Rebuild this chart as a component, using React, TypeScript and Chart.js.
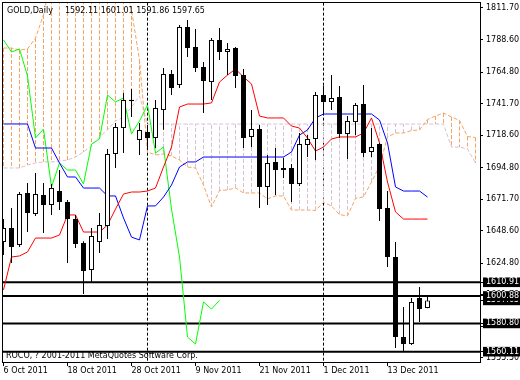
import React, { useEffect, useRef } from "react";
import { Chart, registerables } from "chart.js";

Chart.register(...registerables);

// ---- candles (bar 0 = 6 Oct 2011, one bar per trading day) ----
const barOpen = [
  1640.4, 1650.6, 1638.2, 1676.3, 1660.9, 1674.8, 1667.5, 1677.7, 1669.7, 1657.2,
  1639.7, 1619.9, 1640.4, 1652.1, 1704.8, 1723.8, 1744.6, 1715.1, 1720.9, 1716.5,
  1737.0, 1763.4, 1755.3, 1797.8, 1783.1, 1768.5, 1757.5, 1788.3, 1779.5, 1782.4,
  1762.6, 1717.3, 1723.1, 1680.7, 1699.0, 1694.6, 1694.6, 1682.9, 1711.4, 1715.8,
  1748.0, 1742.9, 1746.5, 1719.5, 1728.2, 1741.4, 1706.3, 1712.1, 1665.3, 1629.4,
  1570.8, 1565.7, 1599.4, 1592.11,
];
const barHigh = [
  1657.2, 1665.3, 1677.0, 1683.6, 1690.9, 1683.6, 1682.9, 1693.1, 1671.1, 1660.2,
  1641.0, 1650.6, 1661.6, 1708.5, 1727.5, 1749.5, 1752.4, 1727.5, 1726.0, 1744.3,
  1767.8, 1766.3, 1799.3, 1802.9, 1796.3, 1772.2, 1789.7, 1797.1, 1786.1, 1783.1,
  1767.0, 1737.0, 1726.0, 1704.1, 1709.2, 1701.9, 1697.5, 1720.2, 1718.7, 1750.2,
  1754.6, 1762.6, 1754.6, 1732.6, 1742.2, 1755.3, 1723.8, 1712.9, 1677.7, 1640.4,
  1592.8, 1599.4, 1607.4, 1601.01,
];
const barLow = [
  1630.9, 1625.0, 1636.7, 1647.7, 1659.4, 1647.0, 1660.2, 1663.8, 1625.0, 1636.0,
  1602.3, 1610.4, 1632.3, 1642.6, 1694.6, 1705.5, 1731.9, 1704.1, 1707.7, 1709.2,
  1722.5, 1748.0, 1753.1, 1775.8, 1764.8, 1734.8, 1744.3, 1773.6, 1762.6, 1753.1,
  1709.2, 1709.9, 1665.3, 1667.5, 1674.8, 1687.2, 1669.7, 1681.4, 1702.6, 1700.4,
  1734.8, 1737.0, 1716.5, 1701.2, 1718.7, 1702.6, 1702.6, 1655.8, 1622.1, 1562.8,
  1559.9, 1565.0, 1581.8, 1591.86,
];
const barClose = [
  1650.6, 1636.7, 1675.5, 1661.6, 1675.5, 1667.5, 1679.9, 1669.7, 1657.2, 1638.9,
  1619.2, 1644.8, 1652.8, 1704.8, 1724.6, 1744.3, 1743.5, 1722.4, 1716.5, 1738.5,
  1763.4, 1753.1, 1797.8, 1782.4, 1767.8, 1758.3, 1788.3, 1779.5, 1781.7, 1761.9,
  1716.5, 1723.1, 1680.7, 1698.2, 1693.1, 1693.1, 1682.9, 1712.1, 1715.8, 1748.0,
  1742.9, 1745.8, 1719.5, 1729.0, 1740.7, 1705.5, 1709.9, 1664.5, 1629.4, 1570.8,
  1565.7, 1596.5, 1591.3, 1597.65,
];

// ---- Ichimoku lines ----
const tenkan = [
  1605.3, 1629.4, 1630.2, 1633.1, 1643.3, 1643.3, 1643.3, 1645.5, 1660.2, 1660.2,
  1647.7, 1647.7, 1647.7, 1652.8, 1664.5, 1675.5, 1677.0, 1677.0, 1677.7, 1679.9,
  1695.3, 1709.9, 1739.2, 1741.4, 1741.4, 1741.4, 1742.2, 1757.5, 1762.6, 1767.0,
  1761.2, 1756.1, 1732.6, 1731.2, 1731.2, 1731.2, 1725.3, 1723.8, 1716.5, 1707.0,
  1709.9, 1715.8, 1717.3, 1717.3, 1717.3, 1720.2, 1731.2, 1712.9, 1684.3, 1662.4,
  1657.2, 1657.2, 1657.2, 1657.2,
];
const kijun = [
  1726.8, 1726.8, 1726.8, 1726.8, 1709.2, 1709.2, 1709.2, 1698.2, 1688.0, 1688.0,
  1679.9, 1679.9, 1679.9, 1674.1, 1674.1, 1658.0, 1644.0, 1641.9, 1666.8, 1666.8,
  1673.3, 1682.1, 1695.3, 1699.0, 1699.0, 1702.6, 1702.6, 1702.6, 1702.6, 1702.6,
  1702.6, 1702.6, 1702.6, 1702.6, 1702.6, 1702.6, 1706.3, 1718.7, 1722.4, 1731.2,
  1734.1, 1734.1, 1734.1, 1734.1, 1734.1, 1734.1, 1734.1, 1729.7, 1712.9, 1680.7,
  1677.7, 1677.7, 1677.7, 1673.3,
];
// Chikou span, bars 0..27
const chikou = [
  1788.3, 1779.5, 1781.7, 1761.9, 1716.5, 1723.1, 1680.7, 1698.2, 1693.1, 1693.1,
  1682.9, 1712.1, 1715.8, 1748.0, 1742.9, 1745.8, 1719.5, 1729.0, 1740.7, 1705.5,
  1709.9, 1664.5, 1629.4, 1570.8, 1565.7, 1596.5, 1591.3, 1597.65,
];
// Senkou spans, bars 0..59 (cloud runs past the last candle)
const senkouA = [
  1782.4, 1782.4, 1781.0, 1781.7, 1789.7, 1806.6, 1835.0, 1835.0, 1835.0, 1835.0,
  1835.0, 1835.0, 1835.0, 1835.0, 1835.0, 1835.0, 1810.2, 1773.6, 1706.3, 1704.1,
  1704.8, 1703.4, 1700.4, 1695.3, 1694.6, 1682.1, 1666.1, 1678.1, 1678.5, 1680.0,
  1676.3, 1676.3, 1676.3, 1671.9, 1674.1, 1674.1, 1663.8, 1663.8, 1663.8, 1663.5,
  1669.3, 1666.8, 1660.5, 1659.5, 1672.3, 1673.4, 1684.3, 1696.0, 1717.3, 1720.2,
  1720.2, 1722.0, 1722.4, 1730.1, 1732.6, 1734.8, 1731.9, 1729.4, 1717.6, 1716.9,
];
const senkouB = [
  1694.6, 1694.6, 1694.6, 1696.8, 1698.2, 1699.0, 1699.0, 1699.7, 1700.4, 1702.6,
  1706.3, 1710.7, 1717.3, 1722.4, 1729.0, 1731.9, 1739.2, 1747.3, 1726.75, 1726.75,
  1726.75, 1726.75, 1726.75, 1726.75, 1726.75, 1726.75, 1726.75, 1726.75, 1726.75, 1726.75,
  1726.75, 1726.75, 1726.75, 1726.75, 1726.75, 1726.75, 1726.75, 1726.75, 1726.75, 1726.75,
  1726.75, 1726.75, 1726.75, 1726.75, 1726.75, 1726.75, 1726.75, 1726.75, 1726.75, 1726.75,
  1726.75, 1726.75, 1726.75, 1726.75, 1726.75, 1726.75, 1709.9, 1709.9, 1708.5, 1698.2,
];

// ---- horizontal levels, axis ticks, labels ----
const levels = [1610.91, 1600.88, 1580.8, 1560.11];
const currentPrice = 1597.65;
const yTickValues = [
  1555.5, 1578.6, 1601.7, 1624.8, 1648.6, 1671.7, 1694.8, 1718.6, 1741.7, 1764.8, 1788.6, 1811.7,
];
const dateTickBars = [0, 8, 16, 24, 32, 40, 48];
const dateTickLabels = [
  "6 Oct 2011", "18 Oct 2011", "28 Oct 2011", "9 Nov 2011", "21 Nov 2011", "1 Dec 2011", "13 Dec 2011",
];
const separatorBars = [18, 40];
const symbolLabel = "GOLD,Daily";
const copyrightLabel = "ROCO, ? 2001-2011 MetaQuotes Software Corp.";

const X_MIN = -0.0625;
const X_MAX = 59.5625;
const Y_MIN = 1552.55;
const Y_MAX = 1815.36;

const FONT = '"DejaVu Sans", sans-serif';
const SANDY = "#F4A460";
const THISTLE = "#D8BFD8";

const specialTicks = [currentPrice, ...levels];

export default function App() {
  const ref = useRef<HTMLCanvasElement | null>(null);

  useEffect(() => {
    if (!ref.current) return;
    const idx = barOpen.map((_, i) => i);

    const hatch = (orange: boolean) => {
      const pts: any[] = [];
      senkouA.forEach((a, i) => {
        const b = senkouB[i];
        if ((a > b) === orange) {
          pts.push({ x: i, y: a }, { x: i, y: b }, { x: i, y: null });
        }
      });
      return pts;
    };

    const sepData: any[] = [];
    separatorBars.forEach((b) => {
      sepData.push({ x: b, y: Y_MIN - 10 }, { x: b, y: Y_MAX + 10 }, { x: b, y: null });
    });

    const lineBase = {
      type: "line" as const,
      pointRadius: 0,
      pointHoverRadius: 0,
      borderWidth: 1,
      tension: 0,
      fill: false,
      spanGaps: false,
    };

    const overlay = {
      id: "overlay",
      afterDraw(chart: any) {
        const { ctx, chartArea } = chart;
        const { left, top, right, bottom } = chartArea;
        ctx.save();
        ctx.fillStyle = "#000";
        ctx.font = `8px ${FONT}`;
        ctx.textBaseline = "alphabetic";
        ctx.textAlign = "left";
        const last = barOpen.length - 1;
        const ohlc = [barOpen[last], barHigh[last], barLow[last], barClose[last]]
          .map((v) => v.toFixed(2))
          .join(" ");
        ctx.fillText(symbolLabel, 7, 13);
        ctx.fillText(ohlc, 65, 13);
        ctx.fillText(copyrightLabel, 6, 358);
        ctx.strokeStyle = "#000";
        ctx.lineWidth = 1;
        ctx.strokeRect(left - 0.5, top - 0.5, right - left + 1, bottom - top + 1);
        ctx.restore();
      },
    };

    const chart = new Chart(ref.current, {
      type: "bar",
      data: {
        datasets: [
          {
            type: "bar",
            data: idx.map((i) => ({ x: i, y: [barOpen[i], barClose[i]] })) as any,
            backgroundColor: idx.map((i) => (barClose[i] >= barOpen[i] ? "#ffffff" : "#000000")),
            borderColor: "#000000",
            borderWidth: 1,
            borderSkipped: false,
            barThickness: 5,
            grouped: false,
            inflateAmount: 0,
            order: 0,
          } as any,
          {
            type: "bar",
            data: idx.map((i) => ({ x: i, y: [barLow[i], barHigh[i]] })) as any,
            backgroundColor: "#000000",
            borderWidth: 0,
            barThickness: 1,
            grouped: false,
            inflateAmount: 0,
            order: 1,
          } as any,
          { ...lineBase, data: tenkan.map((v, i) => ({ x: i, y: v })), borderColor: "#ff0000", order: 2 } as any,
          { ...lineBase, data: kijun.map((v, i) => ({ x: i, y: v })), borderColor: "#0000ff", order: 2 } as any,
          { ...lineBase, data: chikou.map((v, i) => ({ x: i, y: v })), borderColor: "#00ff00", order: 2 } as any,
          ...levels.map(
            (lv) =>
              ({
                ...lineBase,
                data: [
                  { x: X_MIN - 1, y: lv },
                  { x: X_MAX + 1, y: lv },
                ],
                borderColor: "#000000",
                borderWidth: 2,
                order: 4,
              } as any)
          ),
          { ...lineBase, data: senkouA.map((v, i) => ({ x: i, y: v })), borderColor: SANDY, borderDash: [4, 2], order: 5 } as any,
          { ...lineBase, data: senkouB.map((v, i) => ({ x: i, y: v })), borderColor: THISTLE, borderDash: [4, 2], order: 5 } as any,
          { ...lineBase, data: hatch(true), borderColor: SANDY, borderDash: [4, 2], order: 6 } as any,
          { ...lineBase, data: hatch(false), borderColor: THISTLE, borderDash: [4, 2], order: 6 } as any,
          { ...lineBase, data: sepData, borderColor: "#000000", borderDash: [3, 2], order: 7 } as any,
        ],
      },
      options: {
        animation: false,
        responsive: false,
        events: [],
        layout: { padding: { top: 3, left: 3, right: 0, bottom: 0 } },
        plugins: {
          legend: { display: false },
          tooltip: { enabled: false },
          title: { display: false },
        },
        scales: {
          x: {
            type: "linear",
            min: X_MIN,
            max: X_MAX,
            offset: false,
            bounds: "data",
            grid: { drawOnChartArea: false, drawTicks: true, tickLength: 4, color: "#000", offset: false },
            border: { display: false },
            ticks: {
              autoSkip: false,
              maxRotation: 0,
              align: "start",
              padding: 0,
              color: "#000",
              font: { family: FONT, size: 8 },
              callback: (v: any) => {
                const k = dateTickBars.indexOf(Number(v));
                return k >= 0 ? dateTickLabels[k] : "";
              },
            },
            afterBuildTicks: (s: any) => {
              s.ticks = dateTickBars.map((v) => ({ value: v }));
            },
            afterFit: (s: any) => {
              s.height = 18;
              s.paddingLeft = 0;
              s.paddingRight = 0;
              s.paddingTop = 0;
              s.paddingBottom = 0;
            },
          } as any,
          y: {
            type: "linear",
            position: "right",
            min: Y_MIN,
            max: Y_MAX,
            beginAtZero: false,
            bounds: "data",
            grid: { drawOnChartArea: false, drawTicks: true, tickLength: 3, color: "#000" },
            border: { display: false },
            ticks: {
              autoSkip: false,
              padding: 3,
              font: { family: FONT, size: 8 },
              color: (c: any) => (specialTicks.includes(c.tick?.value) ? "#ffffff" : "#000000"),
              showLabelBackdrop: (c: any) => specialTicks.includes(c.tick?.value),
              backdropColor: "#000000",
              backdropPadding: { left: 3, right: 8, top: 0, bottom: 0 },
              callback: (v: any) => Number(v).toFixed(2),
            },
            afterBuildTicks: (s: any) => {
              s.ticks = [...yTickValues, ...specialTicks].map((v) => ({ value: v }));
            },
            afterFit: (s: any) => {
              s.width = 40;
              s.paddingLeft = 0;
              s.paddingRight = 0;
              s.paddingTop = 0;
              s.paddingBottom = 0;
            },
          } as any,
        },
      },
      plugins: [overlay],
    });

    return () => chart.destroy();
  }, []);

  return (
    <div style={{ position: "fixed", left: 0, top: 0, width: 520, height: 380, background: "#fff" }}>
      <canvas ref={ref} width={520} height={380} style={{ display: "block" }} />
    </div>
  );
}
